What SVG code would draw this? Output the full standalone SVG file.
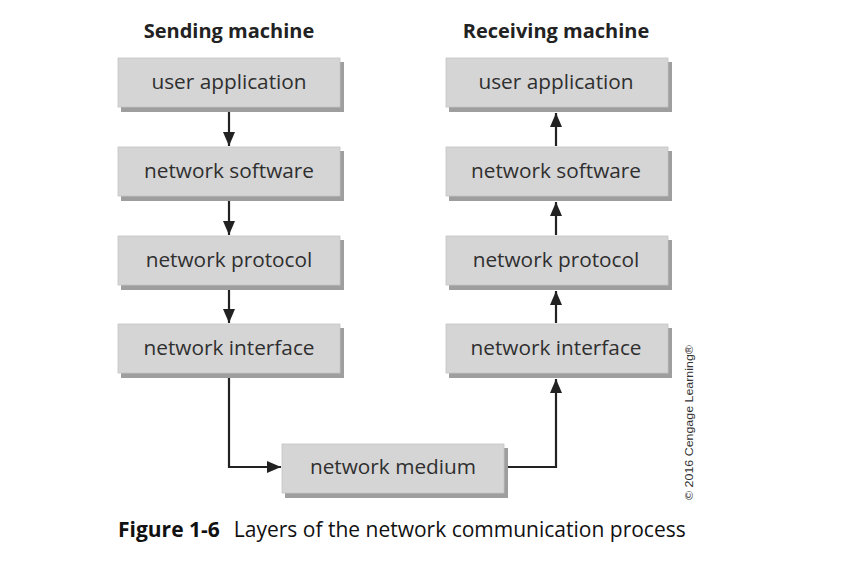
<svg xmlns="http://www.w3.org/2000/svg" width="858" height="574" viewBox="0 0 858 574">
  <defs>
    <marker id="arrow" viewBox="0 0 14 12" refX="14" refY="6" markerWidth="14" markerHeight="12" markerUnits="userSpaceOnUse" orient="auto">
      <path d="M0,0 L14,6 L0,12 Z" fill="#222"/>
    </marker>
  </defs>
  <style>
    .shadow { fill: #9e9e9e; }
    .face { fill: #d5d5d6; stroke: #c4c4c4; stroke-width: 0.8; }
    .label { font-family: "Open Sans", "Noto Sans", sans-serif; font-size: 20.8px; fill: #2f2f2f; text-anchor: middle; }
    .title { font-family: "Open Sans", "Noto Sans", sans-serif; font-size: 20px; font-weight: bold; fill: #222; text-anchor: middle; }
    .wire { fill: none; stroke: #222; stroke-width: 2.2; }
    .cap { font-family: "Open Sans", "Noto Sans", sans-serif; font-size: 21px; fill: #111; }
  </style>
  <rect width="858" height="574" fill="#fff"/>

  <text class="title" x="229" y="38">Sending machine</text>
  <text class="title" x="556" y="38">Receiving machine</text>

  <g id="send-app">
    <rect class="shadow" x="121" y="62" width="223" height="50"/>
    <rect class="face" x="118" y="58" width="222" height="49"/>
    <text class="label" x="229" y="89">user application</text>
  </g>
  <g id="send-software">
    <rect class="shadow" x="121" y="151" width="223" height="50"/>
    <rect class="face" x="118" y="147" width="222" height="49"/>
    <text class="label" x="229" y="178">network software</text>
  </g>
  <g id="send-protocol">
    <rect class="shadow" x="121" y="240" width="223" height="50"/>
    <rect class="face" x="118" y="236" width="222" height="49"/>
    <text class="label" x="229" y="267">network protocol</text>
  </g>
  <g id="send-interface">
    <rect class="shadow" x="121" y="328" width="223" height="50"/>
    <rect class="face" x="118" y="324" width="222" height="49"/>
    <text class="label" x="229" y="355">network interface</text>
  </g>

  <g id="recv-app">
    <rect class="shadow" x="449" y="62" width="223" height="50"/>
    <rect class="face" x="446" y="58" width="222" height="49"/>
    <text class="label" x="556" y="89">user application</text>
  </g>
  <g id="recv-software">
    <rect class="shadow" x="449" y="151" width="223" height="50"/>
    <rect class="face" x="446" y="147" width="222" height="49"/>
    <text class="label" x="556" y="178">network software</text>
  </g>
  <g id="recv-protocol">
    <rect class="shadow" x="449" y="240" width="223" height="50"/>
    <rect class="face" x="446" y="236" width="222" height="49"/>
    <text class="label" x="556" y="267">network protocol</text>
  </g>
  <g id="recv-interface">
    <rect class="shadow" x="449" y="328" width="223" height="50"/>
    <rect class="face" x="446" y="324" width="222" height="49"/>
    <text class="label" x="556" y="355">network interface</text>
  </g>

  <g id="medium">
    <rect class="shadow" x="285" y="448" width="223" height="50"/>
    <rect class="face" x="282" y="444" width="222" height="49"/>
    <text class="label" x="393" y="474">network medium</text>
  </g>

  <g id="connectors">
    <line class="wire" x1="229" y1="112" x2="229" y2="146" marker-end="url(#arrow)"/>
    <line class="wire" x1="229" y1="201" x2="229" y2="235" marker-end="url(#arrow)"/>
    <line class="wire" x1="229" y1="290" x2="229" y2="323" marker-end="url(#arrow)"/>
    <polyline class="wire" points="229,378 229,467 281,467" marker-end="url(#arrow)"/>
    <polyline class="wire" points="508,467 556,467 556,379" marker-end="url(#arrow)"/>
    <line class="wire" x1="556" y1="323" x2="556" y2="291" marker-end="url(#arrow)"/>
    <line class="wire" x1="556" y1="235" x2="556" y2="202" marker-end="url(#arrow)"/>
    <line class="wire" x1="556" y1="146" x2="556" y2="113" marker-end="url(#arrow)"/>
  </g>

  <text transform="translate(693,500) rotate(-90)" font-family="Liberation Sans, Arial, sans-serif" font-size="11.5" fill="#333" textLength="155" lengthAdjust="spacingAndGlyphs">© 2016 Cengage Learning®</text>

  <text class="cap" x="118" y="537"><tspan font-weight="bold">Figure 1-6</tspan><tspan dx="14">Layers of the network communication process</tspan></text>
</svg>
